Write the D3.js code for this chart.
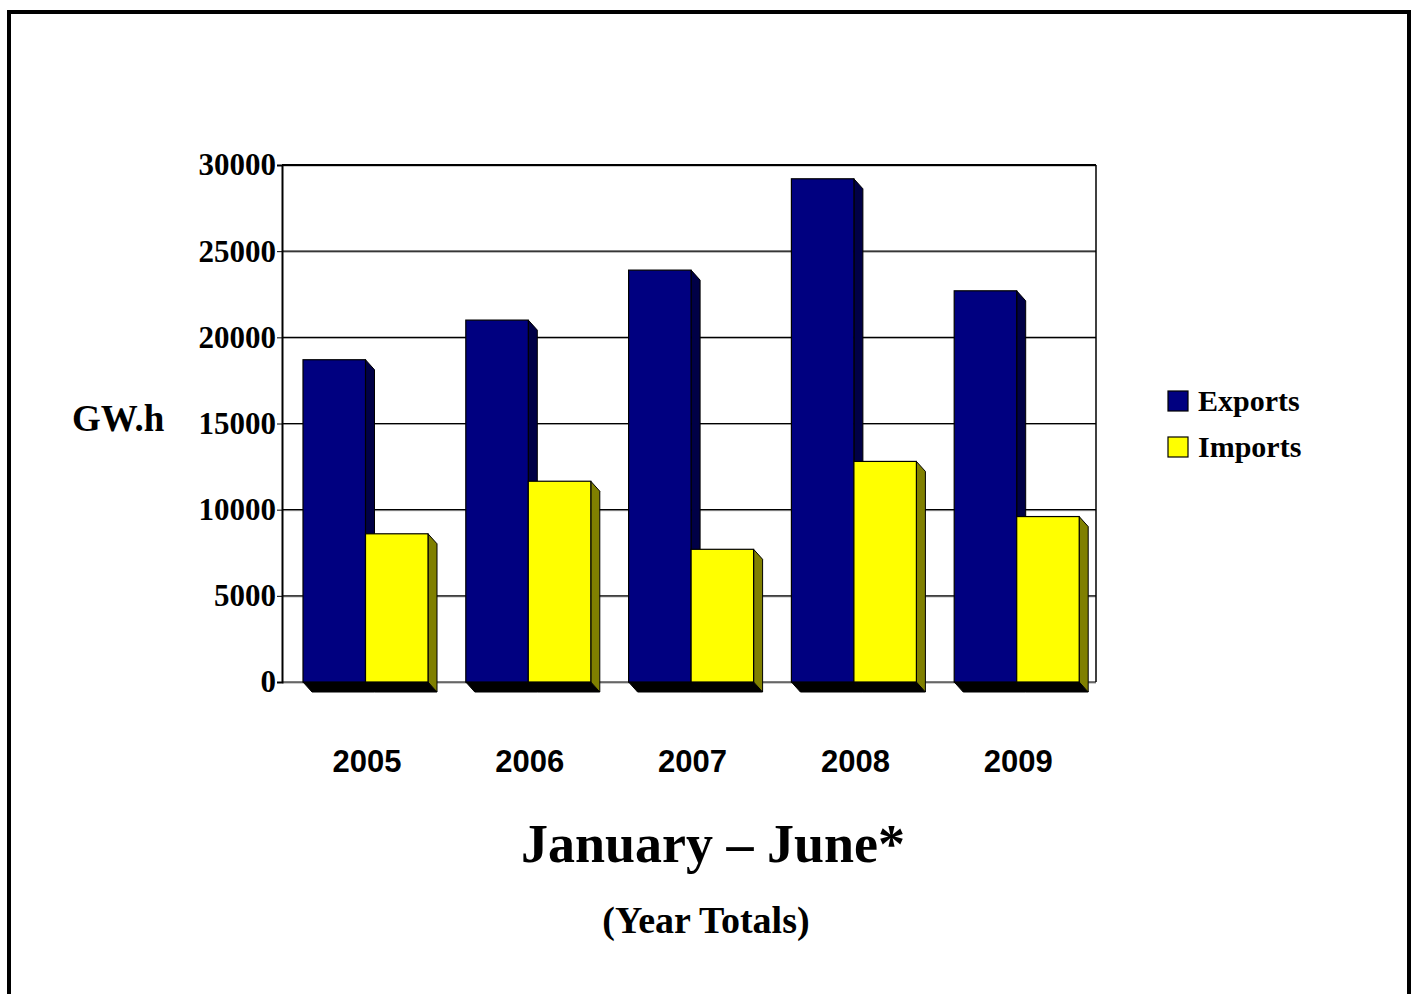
<!DOCTYPE html>
<head>
  <meta charset="utf-8">
  <script type="text/javascript" src="https://cdn.jsdelivr.net/npm/d3@7"></script>
  <style>
    body { margin: 0; background: #fff; }
    .serif { font-family: "Liberation Serif", "Times New Roman", serif; font-weight: bold; }
    .sans { font-family: "Liberation Sans", Arial, sans-serif; font-weight: bold; }
  </style>
</head>
<body>
  <script>

  var years = ["2005", "2006", "2007", "2008", "2009"]
  var exportsGWh = [18700, 21000, 23900, 29200, 22700]
  var importsGWh = [8600, 11650, 7700, 12800, 9600]
  var yTicks = [0, 5000, 10000, 15000, 20000, 25000, 30000]
  var seriesNames = ["Exports", "Imports"]

  var W = 1418, H = 994
  var plot = {left: 282, right: 1096, top: 165, bottom: 682}
  var depth = {dx: 9, dy: 10}

  var front = {Exports: "#000080", Imports: "#ffff00"}
  var side = {Exports: "#000046", Imports: "#808000"}

  var svg = d3.select("body")
              .append("svg")
              .attr("width", W)
              .attr("height", H)

  // outer frame
  svg.append("rect")
     .attr("x", 9).attr("y", 12)
     .attr("width", 1400).attr("height", 1000)
     .attr("fill", "none")
     .attr("stroke", "#000")
     .attr("stroke-width", 4)

  var y = d3.scaleLinear()
            .domain([0, 30000])
            .range([plot.bottom, plot.top])

  var x0 = d3.scaleBand()
             .domain(years)
             .range([plot.left, plot.right])
  var groupOffset = x0.step() * 0.129
  var x1 = d3.scaleBand()
             .domain(seriesNames)
             .range([0, 125])

  // gridlines
  svg.append("g")
     .selectAll("line")
     .data(yTicks)
     .enter()
     .append("line")
     .attr("x1", plot.left).attr("x2", plot.right)
     .attr("y1", function(d) { return y(d) + 1 })
     .attr("y2", function(d) { return y(d) + 1 })
     .attr("stroke", "#999")
     .attr("stroke-width", 1)
  svg.append("g")
     .selectAll("line")
     .data(yTicks)
     .enter()
     .append("line")
     .attr("x1", plot.left).attr("x2", plot.right)
     .attr("y1", function(d) { return y(d) })
     .attr("y2", function(d) { return y(d) })
     .attr("stroke", "#000")
     .attr("stroke-width", function(d) { return d == 30000 ? 2 : 1.2 })

  // frame sides
  svg.append("line")
     .attr("x1", plot.right).attr("x2", plot.right)
     .attr("y1", plot.top).attr("y2", plot.bottom)
     .attr("stroke", "#000").attr("stroke-width", 1.5)

  // y axis
  var yAxis = d3.axisLeft(y)
                .tickValues(yTicks)
                .tickSize(5)
                .tickPadding(1)
                .tickFormat(d3.format("d"))
  var ya = svg.append("g")
     .attr("transform", "translate(" + plot.left + ",0)")
     .call(yAxis)
  ya.select(".domain").attr("stroke-width", 2)
  ya.selectAll("text")
    .attr("class", "serif")
    .style("font-size", "31px")
    .attr("fill", "#000")

  // bars
  var rows = []
  years.forEach(function(yr, i) {
    rows.push({year: yr, key: "Exports", value: exportsGWh[i]})
    rows.push({year: yr, key: "Imports", value: importsGWh[i]})
  })

  var bars = svg.append("g")
  rows.forEach(function(d) {
    var xl = x0(d.year) + groupOffset + x1(d.key)
    var xr = xl + x1.bandwidth()
    var yt = y(d.value)
    var yb = y(0)
    var g = bars.append("g")
    // floor shadow
    g.append("path")
     .attr("d", "M" + xl + "," + yb + "L" + xr + "," + yb + "L" + (xr + depth.dx) + "," + (yb + depth.dy) +
                "L" + (xl + depth.dx) + "," + (yb + depth.dy) + "Z")
     .attr("fill", "#000")
     .attr("stroke", "#000")
     .attr("stroke-width", 1)
    // side face
    g.append("path")
     .attr("d", "M" + xr + "," + yt + "L" + (xr + depth.dx) + "," + (yt + depth.dy) + "L" + (xr + depth.dx) + "," + (yb + depth.dy) +
                "L" + xr + "," + yb + "Z")
     .attr("fill", side[d.key])
     .attr("stroke", "#000")
     .attr("stroke-width", 1)
    // front face
    g.append("rect")
     .attr("x", xl).attr("y", yt)
     .attr("width", x1.bandwidth())
     .attr("height", yb - yt)
     .attr("fill", front[d.key])
     .attr("stroke", "#000")
     .attr("stroke-width", 1.2)
  })

  // year labels
  svg.append("g")
     .selectAll("text")
     .data(years)
     .enter()
     .append("text")
     .attr("class", "sans")
     .attr("x", function(d) { return x0(d) + groupOffset + 64 })
     .attr("y", 772)
     .attr("text-anchor", "middle")
     .style("font-size", "31px")
     .text(function(d) { return d })

  // y label
  svg.append("text")
     .attr("class", "serif")
     .attr("x", 72).attr("y", 431)
     .style("font-size", "37px")
     .text("GW.h")

  // legend
  var legend = svg.append("g")
     .selectAll("g")
     .data(seriesNames)
     .enter()
     .append("g")
     .attr("transform", function(d, i) { return "translate(1168," + (391 + i * 46) + ")" })
  legend.append("rect")
     .attr("width", 20).attr("height", 20)
     .attr("fill", function(d) { return front[d] })
     .attr("stroke", "#000")
     .attr("stroke-width", 1.2)
  legend.append("text")
     .attr("class", "serif")
     .attr("x", 30).attr("y", 20)
     .style("font-size", "30px")
     .text(function(d) { return d })

  // titles
  svg.append("text")
     .attr("class", "serif")
     .attr("x", 713).attr("y", 862)
     .attr("text-anchor", "middle")
     .style("font-size", "54px")
     .text("January – June*")

  svg.append("text")
     .attr("class", "serif")
     .attr("x", 706).attr("y", 933)
     .attr("text-anchor", "middle")
     .style("font-size", "38px")
     .text("(Year Totals)")

  </script>
</body>
